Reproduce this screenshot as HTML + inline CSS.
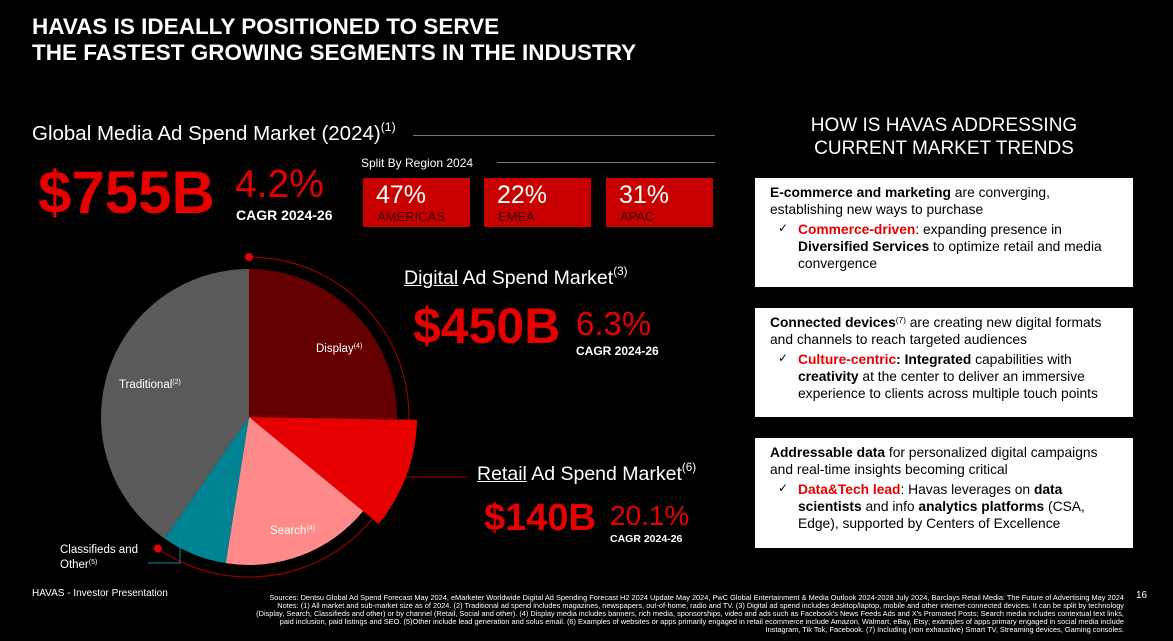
<!DOCTYPE html>
<html><head><meta charset="utf-8"><style>
*{margin:0;padding:0;box-sizing:border-box}
body{width:1173px;height:641px;background:#000;overflow:hidden;position:relative;font-family:"Liberation Sans",Arial,sans-serif;color:#fff}
.a{position:absolute;white-space:nowrap}
.red{color:#e60000}
.box{position:absolute;left:755px;width:378px;background:#fff;color:#000;font-size:13.8px;line-height:17px;padding:6px 20px 0 15px}
.box .chk{position:relative;padding-left:28px;margin-top:3px}
.box .chk:before{content:"✓";position:absolute;left:8px;top:-1px;font-size:12px}
.reg{position:absolute;top:178px;width:107px;height:49px;background:#c80000}
.reg .p{position:absolute;left:13px;top:3px;font-size:25px;color:#fff}
.reg .l{position:absolute;left:14px;top:31px;font-size:13px;color:#3a0000}
sup{font-size:60%;vertical-align:top;position:relative;top:-2px}
</style></head><body>
<div class="a" style="left:32px;top:14px;font-size:22.5px;font-weight:bold;line-height:26px">HAVAS IS IDEALLY POSITIONED TO SERVE<br>THE FASTEST GROWING SEGMENTS IN THE INDUSTRY</div>

<div class="a" style="left:32px;top:122px;font-size:20.5px">Global Media Ad Spend Market (2024)<sup>(1)</sup></div>
<div class="a" style="left:413px;top:135px;width:302px;height:1px;background:#777"></div>
<div class="a" style="left:361px;top:156px;font-size:12px">Split By Region 2024</div>
<div class="a" style="left:497px;top:162px;width:218px;height:1px;background:#777"></div>
<div class="a red" style="left:38px;top:158px;font-size:60px;font-weight:bold">$755B</div>
<div class="a red" style="left:235px;top:163px;font-size:39px">4.2%</div>
<div class="a" style="left:236px;top:207px;font-size:14px;font-weight:bold">CAGR 2024-26</div>

<div class="reg" style="left:363px"><div class="p">47%</div><div class="l">AMERICAS</div></div>
<div class="reg" style="left:484px"><div class="p">22%</div><div class="l">EMEA</div></div>
<div class="reg" style="left:606px"><div class="p">31%</div><div class="l">APAC</div></div>

<svg class="a" style="left:0;top:0" width="470" height="600" id="pie"></svg>

<div class="a" style="left:404px;top:267px;font-size:19.5px"><u>Digital</u> Ad Spend Market<sup>(3)</sup></div>
<div class="a red" style="left:413px;top:297px;font-size:50px;font-weight:bold">$450B</div>
<div class="a red" style="left:576px;top:305px;font-size:33px">6.3%</div>
<div class="a" style="left:576px;top:344px;font-size:12px;font-weight:bold">CAGR 2024-26</div>

<div class="a" style="left:477px;top:463px;font-size:19.5px"><u>Retail</u> Ad Spend Market<sup>(6)</sup></div>
<div class="a red" style="left:484px;top:497px;font-size:38px;font-weight:bold">$140B</div>
<div class="a red" style="left:610px;top:500px;font-size:28px">20.1%</div>
<div class="a" style="left:610px;top:533px;font-size:10.5px;font-weight:bold">CAGR 2024-26</div>

<div class="a" style="left:755px;top:114px;width:378px;text-align:center;font-size:19px;line-height:23px">HOW IS HAVAS ADDRESSING<br>CURRENT MARKET TRENDS</div>

<div class="box" style="top:178px;height:109px;padding-right:14px"><b>E-commerce and marketing</b> are converging,<br>establishing new ways to purchase<div class="chk" style="padding-right:0"><b class="red">Commerce-driven</b>: expanding presence in<br><b>Diversified Services</b> to optimize retail and media convergence</div></div>
<div class="box" style="top:308px;height:109px"><b>Connected devices</b><sup>(7)</sup> are creating new digital formats<br>and channels to reach targeted audiences<div class="chk"><b class="red">Culture-centric</b><b>: Integrated</b> capabilities with <b>creativity</b> at the center to deliver an immersive experience to clients across multiple touch points</div></div>
<div class="box" style="top:438px;height:110px;padding-right:14px"><b>Addressable data</b> for personalized digital campaigns<br>and real-time insights becoming critical<div class="chk"><b class="red">Data&amp;Tech lead</b>: Havas leverages on <b>data</b><br><b>scientists</b> and info <b>analytics platforms</b> (CSA,<br>Edge), supported by Centers of Excellence</div></div>

<div class="a" style="left:32px;top:588px;font-size:10px">HAVAS - Investor Presentation</div>
<div class="a" style="left:1136px;top:590px;font-size:10px">16</div>
<div class="a" style="right:49px;top:594px;font-size:7.4px;line-height:8px;text-align:right;letter-spacing:0">Sources: Dentsu Global Ad Spend Forecast May 2024, eMarketer Worldwide Digital Ad Spending Forecast H2 2024 Update May 2024, PwC Global Entertainment &amp; Media Outlook 2024-2028 July 2024, Barclays Retail Media: The Future of Advertising May 2024<br>Notes: (1) All market and sub-market size as of 2024. (2) Traditional ad spend includes magazines, newspapers, out-of-home, radio and TV. (3) Digital ad spend includes desktop/laptop, mobile and other internet-connected devices. It can be split by technology<br>(Display, Search, Classifieds and other) or by channel (Retail, Social and other). (4) Display media includes banners, rich media, sponsorships, video and ads such as Facebook's News Feeds Ads and X's Promoted Posts; Search media includes contextual text links,<br>paid inclusion, paid listings and SEO. (5)Other include lead generation and solus email. (6) Examples of websites or apps primarily engaged in retail ecommerce include Amazon, Walmart, eBay, Etsy; examples of apps primary engaged in social media include<br>Instagram, Tik Tok, Facebook. (7) Including (non exhaustive) Smart TV, Streaming devices, Gaming consoles.</div>

<script>
const categories=["Display","Retail","Search","Classifieds and Other","Traditional"];
const values=[191,81,125,54,305];
const colors=["#650000","#e60000","#ff8a8a","#008494","#5a5a5a"];
const svg=document.getElementById('pie');
const NS="http://www.w3.org/2000/svg";
const cx=249,cy=417,r=148;
const total=values.reduce((a,b)=>a+b,0);
function pt(ang,rad){const t=(ang-90)*Math.PI/180;return [cx+rad*Math.cos(t),cy+rad*Math.sin(t)];}
let a0=0;const mids=[];
values.forEach((v,i)=>{
  const a1=a0+v/total*360;
  const rr=i===1?168:r;
  const p0=pt(a0,rr),p1=pt(a1,rr);
  const large=(a1-a0)>180?1:0;
  const p=document.createElementNS(NS,'path');
  p.setAttribute('d',`M${cx},${cy} L${p0[0]},${p0[1]} A${rr},${rr} 0 ${large} 1 ${p1[0]},${p1[1]} Z`);
  p.setAttribute('fill',colors[i]);
  
  
  svg.appendChild(p);
  mids.push([a0,a1]);a0=a1;
});
const dEnd=mids[3][1];
const q0=pt(0,160),q1=pt(dEnd,160);
const arc=document.createElementNS(NS,'path');
arc.setAttribute('d',`M${q0[0]},${q0[1]} A160,160 0 ${dEnd>180?1:0} 1 ${q1[0]},${q1[1]}`);
arc.setAttribute('fill','none');arc.setAttribute('stroke','#b00000');arc.setAttribute('stroke-width','1');


svg.insertBefore(arc,svg.firstChild);
[q0,q1].forEach((q)=>{const c=document.createElementNS(NS,'circle');c.setAttribute('cx',q[0]);c.setAttribute('cy',q[1]);c.setAttribute('r',4);c.setAttribute('fill','#e60000');


svg.appendChild(c);});
const rl=document.createElementNS(NS,'line');
rl.setAttribute('x1',405);rl.setAttribute('y1',477);rl.setAttribute('x2',467);rl.setAttribute('y2',477);rl.setAttribute('stroke','#b00000');


svg.appendChild(rl);
const cl=document.createElementNS(NS,'polyline');
cl.setAttribute('points','180,537 180,563 148,563');cl.setAttribute('fill','none');cl.setAttribute('stroke','#0a8a9a');


svg.appendChild(cl);
function lbl(x,y,txt,sup,name){const t=document.createElementNS(NS,'text');t.setAttribute('x',x);t.setAttribute('y',y);t.setAttribute('fill','#fff');t.setAttribute('font-size','11.5');t.setAttribute('font-family','Liberation Sans, Arial, sans-serif');
t.textContent=txt;const s=document.createElementNS(NS,'tspan');s.setAttribute('font-size','7');s.setAttribute('dy','-4');s.textContent=sup;t.appendChild(s);


svg.appendChild(t);}
lbl(316,352,"Display","(4)","label-display");
lbl(119,388,"Traditional","(2)","label-traditional");
lbl(270,534,"Search","(4)","label-search");
lbl(60,553,"Classifieds and","","label-classifieds");
lbl(60,568,"Other","(5)","label-other");
</script>
</body></html>
